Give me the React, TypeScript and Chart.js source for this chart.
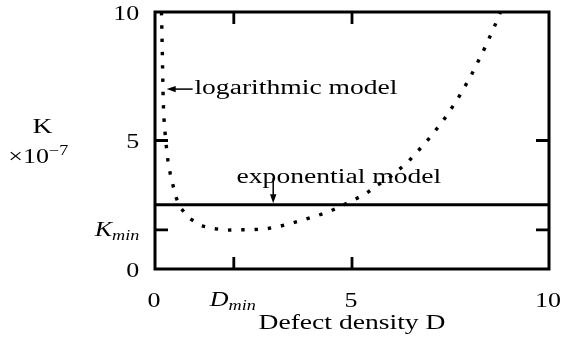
import React, { useEffect, useRef } from 'react';
import { Chart, registerables } from 'chart.js';

Chart.register(...registerables);

// ---- data ----
const logModelD = [0.165, 0.185, 0.203, 0.221, 0.271, 0.33, 0.388, 0.525, 0.652, 0.888, 1.167, 1.453, 1.801, 2.13, 2.468, 2.808, 3.137, 3.482, 3.797, 4.126, 4.431, 4.743, 5.047, 5.351, 5.638, 5.917, 6.409, 6.865, 7.296, 7.677, 8.006, 8.311, 8.59, 8.717, 8.77];
const logModelK = [10.0, 8.47, 6.93, 5.99, 4.99, 4.2, 3.7, 2.82, 2.37, 1.96, 1.69, 1.58, 1.51, 1.53, 1.53, 1.56, 1.65, 1.79, 1.93, 2.08, 2.24, 2.46, 2.69, 2.93, 3.26, 3.51, 4.15, 4.91, 5.73, 6.6, 7.48, 8.41, 9.34, 9.81, 10.0];
const expModelD = [0, 10];
const expModelK = [2.5, 2.5];

const xTickValues = [0, 2, 5, 10];
const xTickLabels = ['0', 'D_min', '5', '10'];
const yTickValues = [0, 1.52, 5, 10];
const yTickLabels = ['0', 'K_min', '5', '10'];

const xTitle = 'Defect density D';
const yTitleTop = 'K';
const yTitleBase = '\u00d710';
const yTitleExp = '\u22127';

const annTexts = ['logarithmic model', 'exponential model'];
const annTextD = [1.0, 2.07];
const annTextK = [6.8, 3.36];
const arrowFromD = [0.955, 3.0];
const arrowFromK = [7.0, 3.54];
const arrowToD = [0.297, 3.0];
const arrowToK = [7.0, 2.56];

// ---- drawing helpers ----
const FONT = '"Liberation Serif", "Times New Roman", serif';
const SX_TEXT = 1.38;
const SX_NUM = 1.3;

function measure(ctx: CanvasRenderingContext2D, s: string, size: number, italic: boolean, sx: number) {
  ctx.save();
  ctx.font = `${italic ? 'italic ' : ''}${size}px ${FONT}`;
  const w = ctx.measureText(s).width * sx;
  ctx.restore();
  return w;
}

function drawStr(ctx: CanvasRenderingContext2D, s: string, x: number, y: number, size: number, italic: boolean, sx: number, align: string = 'left') {
  const w = measure(ctx, s, size, italic, sx);
  let x0 = x;
  if (align === 'center') x0 = x - w / 2;
  else if (align === 'right') x0 = x - w;
  ctx.save();
  ctx.font = `${italic ? 'italic ' : ''}${size}px ${FONT}`;
  ctx.fillStyle = '#000';
  ctx.textAlign = 'left';
  ctx.textBaseline = 'alphabetic';
  ctx.translate(x0, y);
  ctx.scale(sx, 1);
  ctx.fillText(s, 0, 0);
  ctx.restore();
  return w;
}

function drawTickLabel(ctx: CanvasRenderingContext2D, label: string, x: number, y: number, align: string) {
  if (label.includes('_')) {
    const [base, sub] = label.split('_');
    const wb = measure(ctx, base, 20, true, SX_NUM);
    const ws = measure(ctx, sub, 14, true, SX_NUM);
    const total = wb + ws;
    let x0 = x;
    if (align === 'center') x0 = x - total / 2;
    else if (align === 'right') x0 = x - total;
    drawStr(ctx, base, x0, y - 1, 20, true, SX_NUM);
    drawStr(ctx, sub, x0 + wb, y + 3, 14, true, SX_NUM);
  } else {
    drawStr(ctx, label, x, y, 20, false, SX_NUM, align);
  }
}

function arrow(ctx: CanvasRenderingContext2D, x1: number, y1: number, x2: number, y2: number) {
  const ang = Math.atan2(y2 - y1, x2 - x1);
  const hl = 9;
  const hw = 3.2;
  ctx.save();
  ctx.strokeStyle = '#000';
  ctx.fillStyle = '#000';
  ctx.lineWidth = 1.5;
  ctx.beginPath();
  ctx.moveTo(x1, y1);
  ctx.lineTo(x2 - Math.cos(ang) * hl * 0.8, y2 - Math.sin(ang) * hl * 0.8);
  ctx.stroke();
  ctx.beginPath();
  ctx.moveTo(x2, y2);
  ctx.lineTo(x2 - Math.cos(ang) * hl - Math.sin(ang) * hw, y2 - Math.sin(ang) * hl + Math.cos(ang) * hw);
  ctx.lineTo(x2 - Math.cos(ang) * hl + Math.sin(ang) * hw, y2 - Math.sin(ang) * hl - Math.cos(ang) * hw);
  ctx.closePath();
  ctx.fill();
  ctx.restore();
}

const framePlugin = {
  id: 'framePlugin',
  afterDatasetsDraw(chart: any) {
    const ctx: CanvasRenderingContext2D = chart.ctx;
    const { left, right, top, bottom } = chart.chartArea;
    const xs = chart.scales.x;
    const ys = chart.scales.y;

    ctx.save();
    ctx.strokeStyle = '#000';
    ctx.lineWidth = 3;
    ctx.lineJoin = 'miter';
    ctx.strokeRect(left, top, right - left, bottom - top);

    // inward tick marks
    ctx.lineWidth = 2.8;
    ctx.beginPath();
    xs.ticks.forEach((t: any) => {
      if (t.value <= xs.min || t.value >= xs.max) return;
      const px = xs.getPixelForValue(t.value);
      ctx.moveTo(px, bottom);
      ctx.lineTo(px, bottom - 12);
      ctx.moveTo(px, top);
      ctx.lineTo(px, top + 12);
    });
    ys.ticks.forEach((t: any) => {
      if (t.value <= ys.min || t.value >= ys.max) return;
      const py = ys.getPixelForValue(t.value);
      ctx.moveTo(left, py);
      ctx.lineTo(left + 13, py);
      ctx.moveTo(right, py);
      ctx.lineTo(right - 13, py);
    });
    ctx.stroke();
    ctx.restore();

    // tick labels
    xs.ticks.forEach((t: any) => {
      const i = xTickValues.indexOf(t.value);
      if (i < 0) return;
      drawTickLabel(ctx, xTickLabels[i], xs.getPixelForValue(t.value) - 1, bottom + 37.5, 'center');
    });
    ys.ticks.forEach((t: any) => {
      const i = yTickValues.indexOf(t.value);
      if (i < 0) return;
      drawTickLabel(ctx, yTickLabels[i], left - 15.7, ys.getPixelForValue(t.value) + 7.5, 'right');
    });

    // axis titles
    drawStr(ctx, xTitle, (left + right) / 2, bottom + 59.5, 20, false, SX_TEXT, 'center');
    drawStr(ctx, yTitleTop, 42.5, 132.7, 20, false, SX_TEXT, 'center');
    const w1 = drawStr(ctx, yTitleBase, 8.3, 163.3, 20, false, SX_NUM);
    drawStr(ctx, yTitleExp, 8.3 + w1, 154.5, 14, false, SX_NUM);

    // annotations
    annTexts.forEach((s, i) => {
      drawStr(ctx, s, xs.getPixelForValue(annTextD[i]), ys.getPixelForValue(annTextK[i]), 20, false, SX_TEXT);
      arrow(
        ctx,
        xs.getPixelForValue(arrowFromD[i]),
        ys.getPixelForValue(arrowFromK[i]),
        xs.getPixelForValue(arrowToD[i]),
        ys.getPixelForValue(arrowToK[i])
      );
    });
  },
};

export default function App() {
  const ref = useRef<HTMLCanvasElement>(null);
  useEffect(() => {
    const chart = new Chart(ref.current as HTMLCanvasElement, {
      type: 'line',
      data: {
        datasets: [
          {
            label: 'exponential model',
            data: expModelD.map((d, i) => ({ x: d, y: expModelK[i] })),
            borderColor: '#000',
            borderWidth: 3,
            pointRadius: 0,
            tension: 0,
            borderCapStyle: 'butt',
          },
          {
            label: 'logarithmic model',
            data: logModelD.map((d, i) => ({ x: d, y: logModelK[i] })),
            borderColor: '#000',
            borderWidth: 3.4,
            borderDash: [3.4, 9.9],
            borderCapStyle: 'butt',
            pointRadius: 0,
            tension: 0,
          },
        ],
      },
      options: {
        animation: false,
        responsive: false,
        maintainAspectRatio: false,
        devicePixelRatio: 1,
        layout: { padding: { left: 155, right: 14, top: 12, bottom: 76 } },
        plugins: { legend: { display: false }, tooltip: { enabled: false } },
        scales: {
          x: {
            type: 'linear',
            min: 0,
            max: 10,
            display: false,
            afterBuildTicks: (s: any) => {
              s.ticks = xTickValues.map((v) => ({ value: v }));
            },
          },
          y: {
            type: 'linear',
            min: 0,
            max: 10,
            display: false,
            afterBuildTicks: (s: any) => {
              s.ticks = yTickValues.map((v) => ({ value: v }));
            },
          },
        },
      },
      plugins: [framePlugin],
    } as any);
    return () => chart.destroy();
  }, []);
  return (
    <canvas
      ref={ref}
      width={563}
      height={345}
      style={{ position: 'fixed', left: 0, top: 0, width: 563, height: 345, display: 'block' }}
    />
  );
}
